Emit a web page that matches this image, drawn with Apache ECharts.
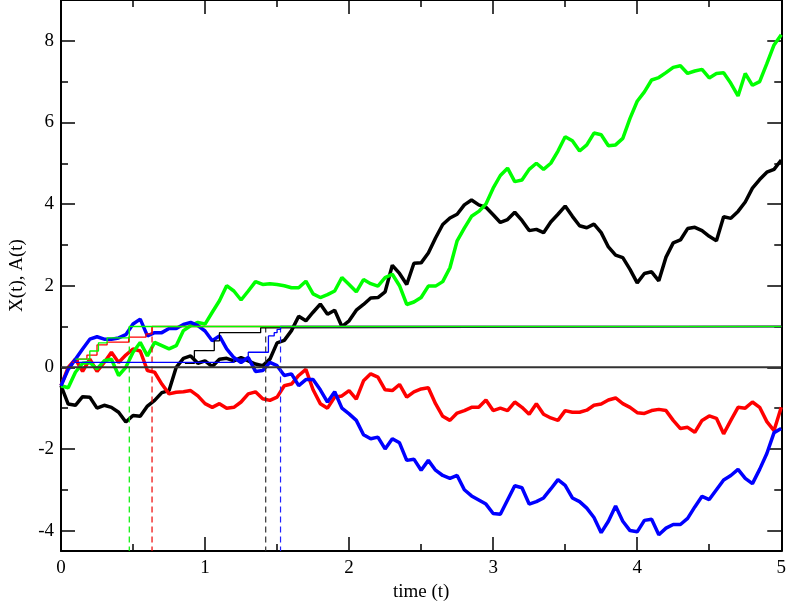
<!DOCTYPE html>
<html><head><meta charset="utf-8">
<script src="https://cdn.jsdelivr.net/npm/echarts@6/dist/echarts.min.js"></script>
<style>html,body{margin:0;padding:0;background:#fff}#c{width:789px;height:609px}</style>
</head><body><div id="c"></div>
<script>
// sample times (t)
const times = [
 0,0.05,0.1,0.15,0.2,0.25,0.3,0.35,0.4,0.45,
 0.5,0.55,0.6,0.65,0.7,0.75,0.8,0.85,0.9,0.95,
 1,1.05,1.1,1.15,1.2,1.25,1.3,1.35,1.4,1.45,
 1.5,1.55,1.6,1.65,1.7,1.75,1.8,1.85,1.9,1.95,
 2,2.05,2.1,2.15,2.2,2.25,2.3,2.35,2.4,2.45,
 2.5,2.55,2.6,2.65,2.7,2.75,2.8,2.85,2.9,2.95,
 3,3.05,3.1,3.15,3.2,3.25,3.3,3.35,3.4,3.45,
 3.5,3.55,3.6,3.65,3.7,3.75,3.8,3.85,3.9,3.95,
 4,4.05,4.1,4.15,4.2,4.25,4.3,4.35,4.4,4.45,
 4.5,4.55,4.6,4.65,4.7,4.75,4.8,4.85,4.9,4.95,
 5
];
// X(t) paths
const blackX = [
 -0.45,-0.9,-0.93,-0.72,-0.73,-1.0,-0.93,-0.98,-1.1,-1.34,
 -1.18,-1.2,-0.95,-0.81,-0.62,-0.57,0.0,0.22,0.28,0.1,
 0.16,0.02,0.2,0.22,0.16,0.24,0.16,0.08,0.04,0.2,
 0.6,0.66,0.9,1.25,1.14,1.35,1.55,1.3,1.4,1.0,
 1.14,1.4,1.54,1.7,1.71,1.85,2.5,2.3,2.03,2.55,
 2.56,2.8,3.17,3.5,3.66,3.75,3.98,4.1,3.98,3.92,
 3.74,3.55,3.62,3.8,3.6,3.35,3.38,3.3,3.56,3.75,
 3.95,3.7,3.47,3.42,3.51,3.3,2.95,2.75,2.69,2.4,
 2.07,2.3,2.34,2.12,2.7,3.05,3.12,3.4,3.43,3.35,
 3.21,3.1,3.69,3.65,3.82,4.05,4.39,4.6,4.78,4.85,
 5.08
];
const redX = [
 -0.45,0.0,0.2,-0.1,0.2,-0.1,0.12,0.37,0.12,0.3,
 0.45,0.4,-0.08,-0.12,-0.41,-0.65,-0.61,-0.6,-0.57,-0.7,
 -0.89,-0.98,-0.89,-1.0,-0.98,-0.85,-0.65,-0.6,-0.77,-0.81,
 -0.73,-0.45,-0.41,-0.2,-0.05,-0.55,-0.89,-1.0,-0.73,-0.7,
 -0.57,-0.78,-0.33,-0.16,-0.24,-0.55,-0.57,-0.42,-0.73,-0.6,
 -0.53,-0.5,-0.89,-1.2,-1.3,-1.12,-1.06,-0.98,-0.98,-0.8,
 -1.06,-1.0,-1.06,-0.85,-0.98,-1.15,-0.89,-1.15,-1.24,-1.3,
 -1.06,-1.1,-1.1,-1.05,-0.93,-0.9,-0.8,-0.75,-0.89,-0.98,
 -1.11,-1.13,-1.06,-1.03,-1.06,-1.3,-1.5,-1.47,-1.59,-1.3,
 -1.19,-1.25,-1.63,-1.3,-0.98,-1.0,-0.85,-0.98,-1.33,-1.55,
 -0.98
];
const greenX = [
 -0.45,-0.5,-0.12,0.1,0.12,-0.04,0.16,0.2,-0.2,0.0,
 0.37,0.61,0.28,0.61,0.53,0.45,0.53,0.9,1.02,1.1,
 1.06,1.35,1.63,2.0,1.87,1.65,1.87,2.1,2.03,2.05,
 2.03,2.0,1.95,1.95,2.11,1.8,1.71,1.78,1.87,2.2,
 2.03,1.85,2.15,2.05,1.99,2.2,2.28,2.0,1.54,1.6,
 1.71,1.99,1.99,2.1,2.44,3.1,3.41,3.7,3.82,4.0,
 4.39,4.7,4.88,4.55,4.59,4.85,5.0,4.85,5.0,5.3,
 5.65,5.55,5.3,5.45,5.74,5.7,5.43,5.45,5.61,6.1,
 6.52,6.75,7.04,7.1,7.22,7.35,7.39,7.2,7.26,7.3,
 7.09,7.2,7.22,6.96,6.65,7.2,6.91,7.0,7.44,7.9,
 8.15
];
const blueX = [
 -0.45,-0.05,0.2,0.45,0.69,0.75,0.69,0.69,0.72,0.8,
 1.06,1.18,0.77,0.85,0.85,0.95,0.95,1.05,1.1,1.02,
 0.89,0.65,0.77,0.45,0.24,0.12,0.24,-0.1,-0.08,0.12,
 0.04,-0.2,-0.16,-0.45,-0.3,-0.3,-0.55,-0.85,-0.6,-1.0,
 -1.14,-1.3,-1.65,-1.75,-1.71,-2.0,-1.75,-1.85,-2.28,-2.25,
 -2.52,-2.28,-2.52,-2.65,-2.72,-2.65,-3.0,-3.15,-3.25,-3.35,
 -3.58,-3.6,-3.25,-2.9,-2.95,-3.35,-3.29,-3.2,-2.98,-2.75,
 -2.89,-3.2,-3.29,-3.45,-3.68,-4.05,-3.77,-3.4,-3.77,-4.0,
 -4.03,-3.75,-3.72,-4.1,-3.94,-3.85,-3.85,-3.7,-3.42,-3.16,
 -3.24,-3.0,-2.76,-2.65,-2.5,-2.72,-2.85,-2.5,-2.11,-1.6,
 -1.5
];
// A(t) step levels: jump times and new levels
const blackAT = [0.86,0.926,1.064,1.1,1.386,1.421,5];
const blackAV = [0.1,0.41,0.65,0.85,0.97,1.0,1.0];
const redAT = [0.08,0.12,0.18,0.25,0.32,0.47,0.59,0.632,5];
const redAV = [0.12,0.2,0.3,0.55,0.62,0.74,0.82,1.0,1.0];
const blueAT = [0.09,1.2,1.3,1.44,1.48,1.5,1.524,5];
const blueAV = [0.12,0.2,0.37,0.77,0.85,0.93,1.0,1.0];
const greenAT = [0.1,0.2,0.26,0.32,0.474,5];
const greenAV = [0.2,0.4,0.6,0.72,1.0,1.0];
// hitting times (dashed markers)
const hitTimes = [0.474,0.632,1.421,1.524];
const hitColors = ['#00ee00','#ee0000','#333333','#2222ff'];
const hitLevel = 1.0;
const yMin = -4.5, yMax = 9;
const yMajor = [-4,-2,0,2,4,6,8];
const yMinor = [-3,-1,1,3,5,7];

const pair = (xs, ys) => xs.map((x, i) => [x, ys[i]]);
const FONT = 'Liberation Serif';
const series = [];
const paths = [[blackX,'#000000'],[redX,'#ff0000'],[greenX,'#00ff00'],[blueX,'#0000ff']];
paths.forEach(([d,c]) => series.push({
  type:'line', data: pair(times,d), showSymbol:false, silent:true,
  lineStyle:{color:c,width:3.5}, z:2
}));
[[blackAT,blackAV,'#000000'],[redAT,redAV,'#ff0000'],[blueAT,blueAV,'#0000ff'],[greenAT,greenAV,'#00ff00']]
 .forEach(([t,v,c]) => series.push({
  type:'line', step:'end', data: pair(t,v), showSymbol:false, silent:true,
  lineStyle:{color:c,width:1.3}, z:4
}));
hitTimes.forEach((t,i) => series.push({
  type:'line', data:[[t,hitLevel],[t,yMin]], showSymbol:false, silent:true,
  lineStyle:{color:hitColors[i],width:1.2,type:[6,4]}, z:3
}));
series.push({type:'line', data:[[0,0],[5,0]], showSymbol:false, silent:true,
  lineStyle:{color:'#333',width:2}, z:5});

const axLine = {show:true, onZero:false, lineStyle:{color:'#000', width:2}};
const noLine = {show:false, onZero:false};
const tickMajor = {show:true, inside:true, length:14, lineStyle:{color:'#000', width:1.5}};
const tickMinor = {show:true, inside:true, length:7, lineStyle:{color:'#000', width:1.5}};
const xBase = {type:'value', min:0, max:5, interval:1, splitLine:{show:false}, axisLine:axLine,
  axisTick:tickMajor, minorTick:{show:true, splitNumber:2, length:7, lineStyle:{color:'#000',width:1.5}}};
const chart = echarts.init(document.getElementById('c'));
chart.setOption({
  animation:false,
  backgroundColor:'#fff',
  grid:{left:59, right:5, top:-2.5, bottom:58, containLabel:false},
  xAxis:[
    Object.assign({}, xBase, {position:'bottom',
      axisLabel:{show:true, color:'#000', fontFamily:FONT, fontSize:19, margin:8},
      name:'time (t)', nameLocation:'middle', nameGap:28,
      nameTextStyle:{color:'#000', fontFamily:FONT, fontSize:19}}),
    Object.assign({}, xBase, {position:'top', axisLabel:{show:false}})
  ],
  yAxis:[
    {type:'value', min:yMin, max:yMax, position:'left', splitLine:{show:false}, axisLine:axLine,
     axisTick:Object.assign({customValues:yMajor}, tickMajor),
     axisLabel:{show:true, customValues:yMajor, color:'#000', fontFamily:FONT, fontSize:19, margin:7},
     name:'X(t), A(t)', nameLocation:'middle', nameGap:34,
     nameTextStyle:{color:'#000', fontFamily:FONT, fontSize:19}},
    {type:'value', min:yMin, max:yMax, position:'left', splitLine:{show:false}, axisLine:noLine,
     axisTick:Object.assign({customValues:yMinor}, tickMinor), axisLabel:{show:false}},
    {type:'value', min:yMin, max:yMax, position:'right', splitLine:{show:false}, axisLine:axLine,
     axisTick:Object.assign({customValues:yMajor}, tickMajor), axisLabel:{show:false}},
    {type:'value', min:yMin, max:yMax, position:'right', splitLine:{show:false}, axisLine:noLine,
     axisTick:Object.assign({customValues:yMinor}, tickMinor), axisLabel:{show:false}}
  ],
  series: series
});
</script>
</body></html>
